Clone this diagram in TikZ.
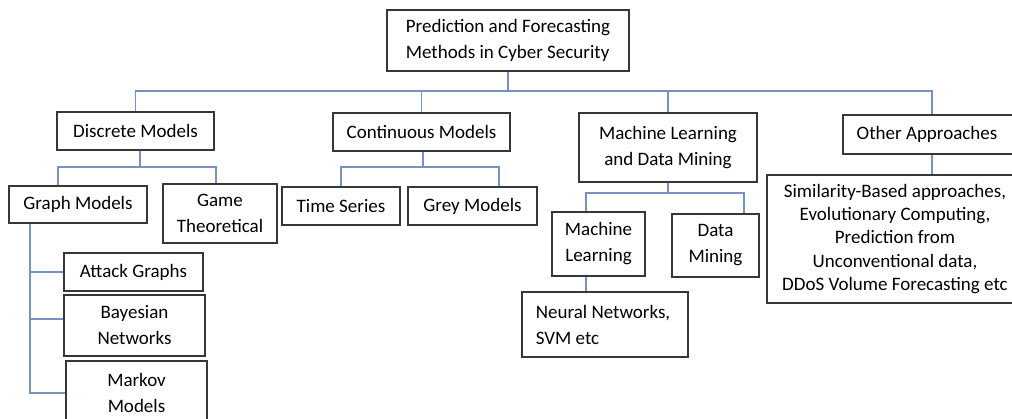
\documentclass[tikz,border=0pt]{standalone}
\usepackage{fontspec}
\setmainfont{Carlito}
\definecolor{boxgray}{RGB}{55,55,55}
\definecolor{connblue}{RGB}{118,146,192}
\begin{document}
\begin{tikzpicture}[x=1pt,y=-1pt,
  box/.style={draw=boxgray, line width=1.3pt, inner sep=0pt, align=center,
    font=\fontsize{19}{26}\selectfont},
  conn/.style={draw=connblue, line width=1.4pt}]
\path[use as bounding box, fill=white] (0,0) rectangle (1012,419);
\clip (0,0) rectangle (1012,419);

% nodes
\node[box, align=left, minimum width=242, minimum height=61] (root) at (508,40.5)
  {Prediction and Forecasting\\Methods in Cyber Security};
\node[box, minimum width=157, minimum height=38] (disc) at (135.5,131) {Discrete Models};
\node[box, minimum width=177, minimum height=38] (cont) at (421.5,132) {Continuous Models};
\node[box, minimum width=178, minimum height=69] (ml) at (668,147.5) {Machine Learning\\and Data Mining};
\node[box, minimum width=178, minimum height=39] (oth) at (932,134.5) {\hspace*{-10pt}Other Approaches};
\node[box, minimum width=138, minimum height=37] (graph) at (78,204.5) {Graph Models};
\node[box, minimum width=114, minimum height=59] (game) at (220,213.5) {Game\\Theoretical};
\node[box, minimum width=118, minimum height=38] (time) at (341,206) {Time Series};
\node[box, minimum width=129, minimum height=38] (grey) at (472.5,206) {Grey Models};
\node[box, minimum width=93, minimum height=64] (mls) at (598.5,244) {Machine\\Learning};
\node[box, minimum width=87, minimum height=63] (dm) at (715.5,245.5) {Data\\Mining};
\node[box, align=left, minimum width=166, minimum height=65] (neural) at (605,324.5)
  {\hspace*{-4pt}Neural Networks,\\\hspace*{-4pt}SVM etc};
\node[box, minimum width=256, minimum height=128, font=\fontsize{19}{23.3}\selectfont] (sim) at (895,239)
  {Similarity-Based approaches,\\Evolutionary Computing,\\Prediction from\\Unconventional data,\\DDoS Volume Forecasting etc};
\node[box, minimum width=139, minimum height=38] (attack) at (133.5,272) {Attack Graphs};
\node[box, minimum width=141, minimum height=61] (bayes) at (134.5,325.5) {Bayesian\\Networks};
\node[box, minimum width=141, minimum height=64] (markov) at (136.5,393) {Markov\\Models};

% junction coordinates
\coordinate (bar) at (508,91);
\coordinate (dj) at (140,167);
\coordinate (cj) at (423,167);
\coordinate (mj) at (668,193);
\coordinate (spine) at (30,0);

% top level
\draw[conn] (root.south) -- (bar);
\draw[conn] (disc.north) |- (bar) -| (oth.north);
\draw[conn] (cont.north) -- (cont.north |- bar);
\draw[conn] (ml.north) -- (ml.north |- bar);

% discrete
\draw[conn] ([xshift=4.5]disc.south) -- (dj);
\draw[conn] ([xshift=-20]graph.north) |- (dj) -| ([xshift=-4]game.north);

% continuous
\draw[conn] ([xshift=1.5]cont.south) -- (cj);
\draw[conn] (time.north) |- (cj) -| ([xshift=26.5]grey.north);

% machine learning
\draw[conn] (ml.south) -- (mj);
\draw[conn] ([xshift=-12.5]mls.north) |- (mj) -| ([xshift=28.5]dm.north);
\draw[conn] ([xshift=-12.5]mls.south) -- ([xshift=-12.5]mls.south |- neural.north);

% other
\draw[conn] (oth.south) -- (oth.south |- sim.north);

% graph models
\draw[conn] ([xshift=-48]graph.south) |- (markov.west);
\draw[conn] (attack.west) -- (attack.west -| spine);
\draw[conn] ([yshift=6.5]bayes.west) -- ([yshift=6.5]bayes.west -| spine);
\end{tikzpicture}
\end{document}
